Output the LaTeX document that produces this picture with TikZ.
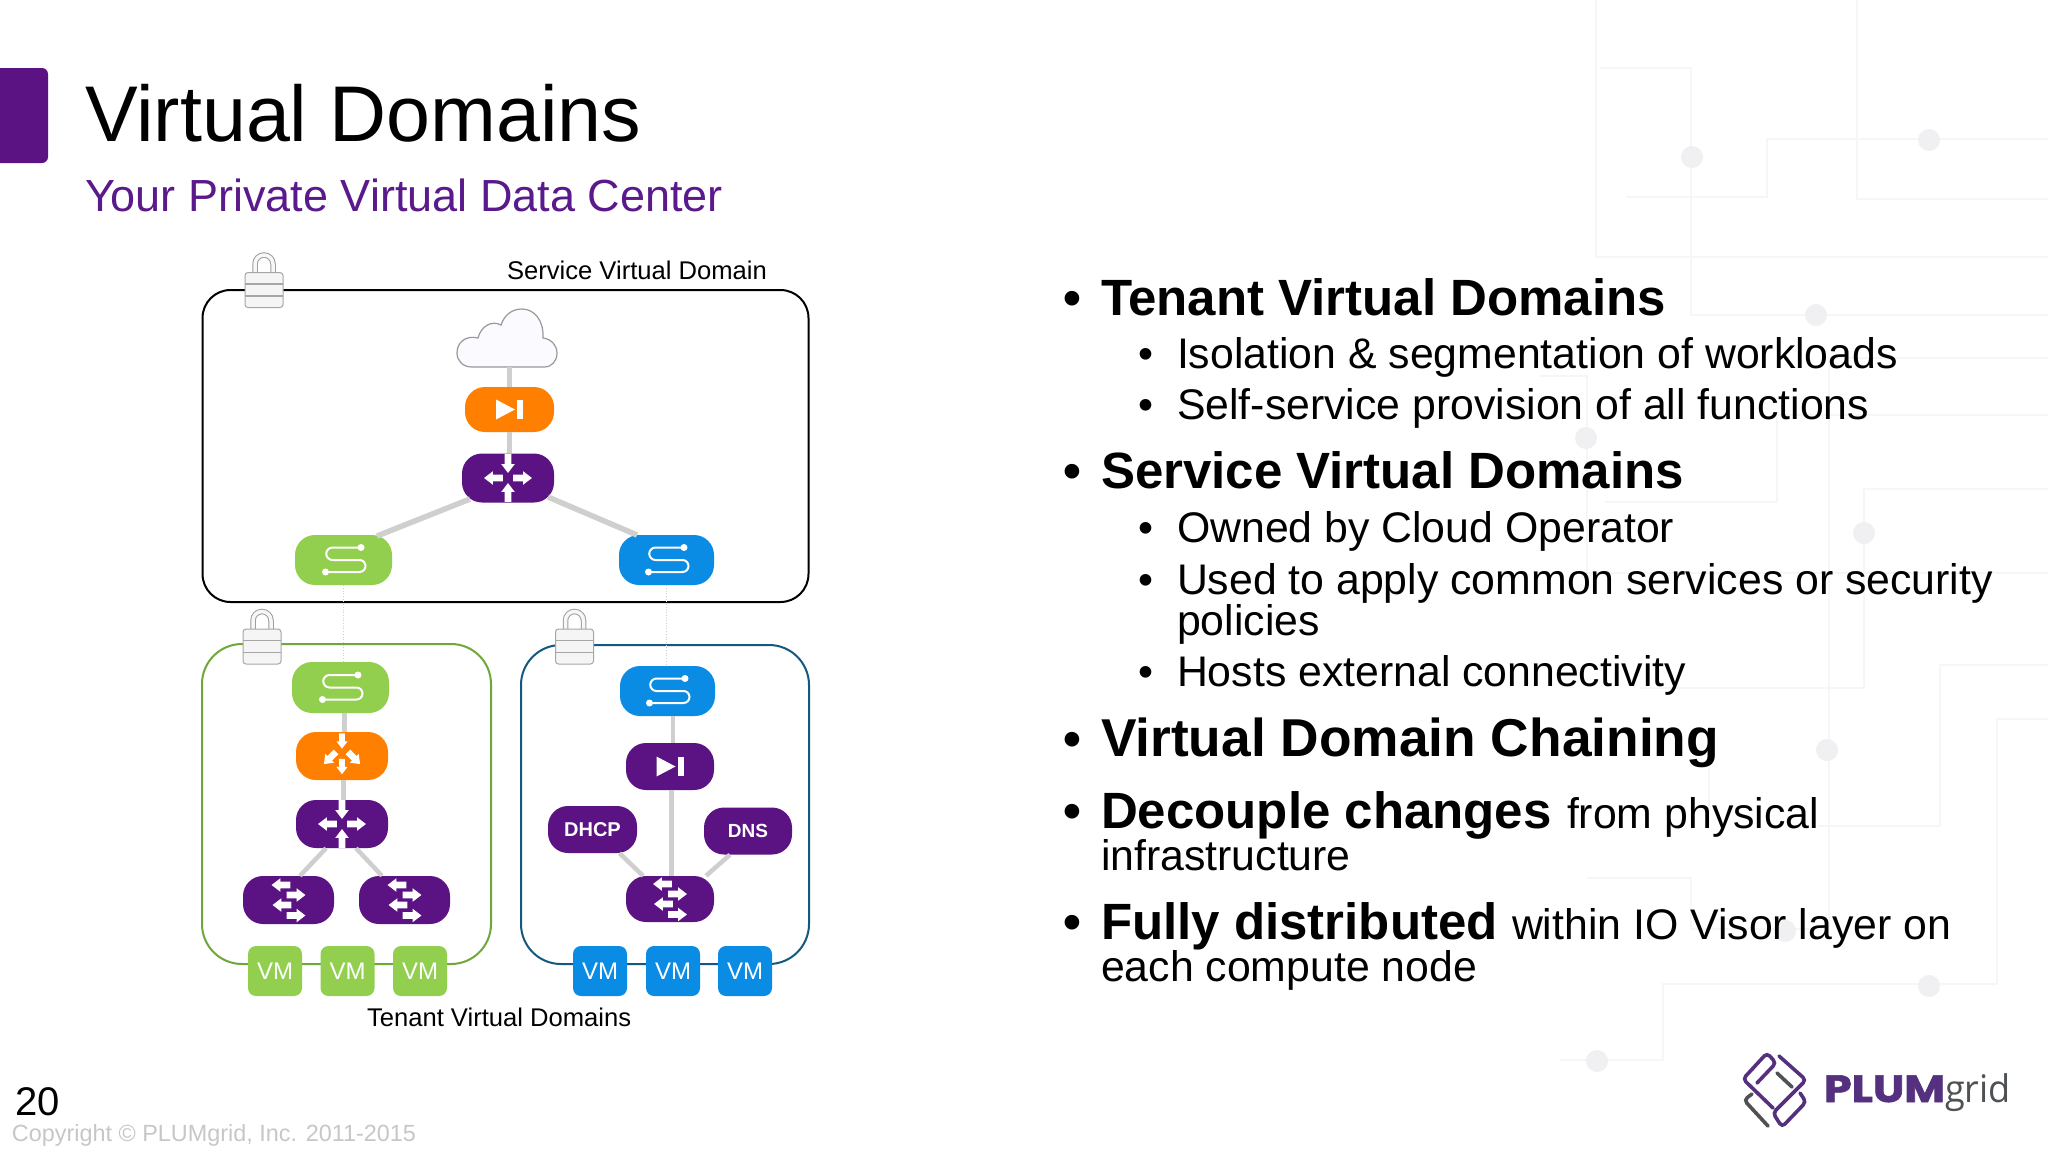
\documentclass[tikz,border=0pt]{standalone}
\usepackage{fontspec}
\setmainfont{Liberation Sans}
\newfontfamily\logofont{Poppins}[BoldFeatures={FakeBold=1.5}]
\newfontfamily\gridfont{Open Sans}
\usetikzlibrary{calc}
\definecolor{plum}{HTML}{5B1282}
\definecolor{subplum}{HTML}{5A1A8B}
\definecolor{fgreen}{HTML}{92CF4F}
\definecolor{fblue}{HTML}{0A8BE4}
\definecolor{forange}{HTML}{FF7F00}
\definecolor{edgegray}{HTML}{CFCFCF}
\definecolor{circ}{HTML}{F6F5F7}
\definecolor{cdotc}{HTML}{F0EFF1}
\definecolor{tgreen}{HTML}{6FA73A}
\definecolor{tblue}{HTML}{15587F}
\definecolor{logop}{HTML}{54307F}
\definecolor{logog}{HTML}{4F5254}
\newcommand{\fs}[1]{\fontsize{#1}{#1}\selectfont}
\newcommand{\myarrow}[5]{\fill[white,shift={(#1,#2)},rotate=#3,scale=#4] (-9,-#5)--(0.5,-#5)--(0.5,-6.5)--(9,0)--(0.5,6.5)--(0.5,#5)--(-9,#5)--cycle;}
\tikzset{
  x=1pt,y=-1pt,
  txt/.style={anchor=base west,inner sep=0pt,outer sep=0pt,text=black},
  head/.style={txt,font=\fs{51}\bfseries},
  body/.style={txt,font=\fs{42.8}},
  lab/.style={txt,font=\fs{25.6}},
  pill/.style={rectangle,rounded corners=20pt,inner sep=0pt,fill=#1,draw=none},
  sz/.style n args={2}{minimum width=#1pt,minimum height=#2pt},
  vm/.style={rectangle,rounded corners=8pt,inner sep=0pt,fill=#1,draw=none,minimum width=54pt,minimum height=50pt,text=white,font=\fs{24}},
  dom/.style={rectangle,rounded corners=#1pt,inner sep=0pt,fill=none,line width=2pt},
  link/.style={draw=edgegray,line width=4.5pt},
  slink/.style={draw=edgegray,line width=5.5pt},
  faint/.style={draw=edgegray,line width=0.7pt,dotted},
  circuit/.style={draw=circ,line width=1.2pt},
  cdot/.style={circle,fill=cdotc,draw=none,minimum size=22pt,inner sep=0pt},
  lockbody/.style={rectangle,rounded corners=3pt,draw=black!35,line width=1pt,fill=white!96!black,minimum width=38pt,minimum height=35pt,inner sep=0pt},
  lockpic/.pic={
    \draw[black!38,line width=5.5pt] (-9,-17) -- (-9,-26) arc[start angle=180,end angle=360,radius=9] -- (9,-17);
    \draw[white!97!black,line width=3.5pt] (-9,-17) -- (-9,-26) arc[start angle=180,end angle=360,radius=9] -- (9,-17);
    \node[lockbody] at (0,0) {};
    \draw[black!35,line width=1.2pt] (-19,-6) -- (19,-6) (-19,6) -- (19,6);
  },
  sicon/.pic={
    \draw[white,line width=2pt] (17.5,-12.5) -- (-11,-12.5) arc[start angle=270,end angle=90,radius=6.25] -- (16,0) arc[start angle=-90,end angle=90,radius=6] -- (-18,12);
    \fill[white] (17.5,-12.5) circle[radius=3.5] (-18,12) circle[radius=3.5];
  },
  routericon/.pic={
    \myarrow{0}{-14.5}{-90}{1.05}{3.3}
    \myarrow{0}{14.5}{90}{1.05}{3.3}
    \myarrow{-14.5}{0}{180}{1.05}{3.3}
    \myarrow{14.5}{0}{0}{1.05}{3.3}
  },
  switchicon/.pic={
    \myarrow{-7.5}{-15}{180}{1.05}{3.3}
    \myarrow{7.5}{-5}{0}{1.05}{3.3}
    \myarrow{-6.5}{5}{180}{1.05}{3.3}
    \myarrow{7.5}{15.5}{0}{1.05}{3.3}
  },
  lbicon/.pic={
    \myarrow{0}{-15}{-90}{0.85}{3.4}
    \myarrow{0}{10.5}{-90}{0.85}{3.4}
    \myarrow{-12}{2}{225}{0.95}{3.4}
    \myarrow{12}{2}{-45}{0.95}{3.4}
  },
  playicon/.pic={
    \fill[white] (-13.5,-10) -- (5.5,0) -- (-13.5,10) -- cycle;
    \fill[white] (7.5,-9.5) rectangle (13.5,9.5);
  },
}
\begin{document}
\begin{tikzpicture}
\useasboundingbox (0,0) rectangle (2048,1152);
\fill[white] (0,0) rectangle (2048,1152);
% ---- decorative circuit background
\draw[circuit] (1596,0) -- (1596,257) -- (2048,257);
\draw[circuit] (1600,68) -- (1691,68) -- (1691,315) -- (2048,315);
\draw[circuit] (1626,197) -- (1767,197) -- (1767,139) -- (2048,139);
\draw[circuit] (1857,0) -- (1857,199) -- (2048,199);
\draw[circuit] (2048,358) -- (1829,358) -- (1829,929) -- (1691,929) -- (1691,878) -- (1587,878);
\draw[circuit] (2048,415) -- (1777,415) -- (1777,502) -- (1605,502);
\draw[circuit] (1540,376) -- (1587,376) -- (1587,573) -- (2048,573);
\draw[circuit] (2048,489) -- (1864,489) -- (1864,688) -- (1640,688);
\draw[circuit] (2048,665) -- (1940,665) -- (1940,826) -- (1818,826);
\draw[circuit] (2048,719) -- (1997,719) -- (1997,984) -- (1663,984) -- (1663,1060) -- (1560,1060);
\draw[circuit] (1709,765) -- (1709,811);
\foreach \cx/\cy/\cn in {1692/157/a,1929/140/b,1816/315/c,1586/438/d,1864/533/e,1827/750/f,1785/931/g,1929/986/h,1597/1061/i}
  \node[cdot] (dot\cn) at (\cx,\cy) {};
% ---- header
\fill[plum,rounded corners=6pt] (-12,68) rectangle (48,163);
\node[txt,font=\fs{79}] (title) at (85,141) {Virtual Domains};
\node[txt,font=\fs{45},text=subplum] (subtitle) at (85,211) {Your Private Virtual Data Center};
% ---- domains
\node[dom=28,draw=black,sz={606}{312}] (svc) at (505.5,446) {};
\node[dom=40,draw=tgreen,sz={289}{320}] (tl) at (346.5,804) {};
\node[dom=40,draw=tblue,sz={288}{319}] (tr) at (665,804.5) {};
\pic at (264,290) {lockpic};
\pic at (262,646.5) {lockpic};
\pic at (574.5,646.5) {lockpic};
\node[lab] (svclabel) at (507,279) {Service Virtual Domain};
\node[lab] (tenlabel) at (367,1026) {Tenant Virtual Domains};
% ---- cloud
\node[minimum width=100pt,minimum height=58pt,inner sep=0pt] (cloud) at (507,338) {};
\draw[black!40,line width=1.2pt,fill=white!98!blue] (472,367) -- (544,367) .. controls (552,367) and (557,361) .. (557,353) .. controls (557,345) and (551,339) .. (543,338) .. controls (544,320) and (534,309) .. (522,309) .. controls (511,309) and (504,316) .. (501,325) .. controls (492,320) and (481,326) .. (478,338) .. controls (466,335) and (457,342) .. (457,353) .. controls (457,361) and (463,367) .. (472,367) -- cycle;
% ---- service domain nodes
\node[pill=forange,sz={89}{45}] (sgw) at (509.5,409.5) {};
\node[pill=plum,sz={92}{49}] (srt) at (508,478) {};
\node[pill=fgreen,sz={97}{50}] (sg) at (343.5,560) {};
\node[pill=fblue,sz={95}{50}] (sb) at (666.5,560) {};
% ---- tenant green
\node[pill=fgreen,sz={97}{51}] (tgs) at (340.5,687.5) {};
\node[pill=forange,sz={92}{48}] (tglb) at (342,756) {};
\node[pill=plum,sz={92}{48}] (tgr) at (342,824) {};
\node[pill=plum,sz={91}{48}] (tga) at (288.5,900) {};
\node[pill=plum,sz={91}{48}] (tgb) at (404.5,900) {};
\node[vm=fgreen] (vg1) at (275,971) {VM};
\node[vm=fgreen] (vg2) at (347.5,971) {VM};
\node[vm=fgreen] (vg3) at (420,971) {VM};
% ---- tenant blue
\node[pill=fblue,sz={95}{50}] (tbs) at (667.5,691) {};
\node[pill=plum,sz={88}{47}] (tbp) at (670,766.5) {};
\node[pill=plum,sz={89}{47},text=white,font=\fs{20}\bfseries] (dhcp) at (592.5,829.5) {DHCP};
\node[pill=plum,sz={88}{47},text=white,font=\fs{19}\bfseries] (dns) at (748,831) {DNS};
\node[pill=plum,sz={88}{46}] (tbw) at (670,899) {};
\node[vm=fblue] (vb1) at (600,971) {VM};
\node[vm=fblue] (vb2) at (673,971) {VM};
\node[vm=fblue] (vb3) at (745,971) {VM};
% ---- connectors
\draw[slink] (sgw.north |- cloud.south) -- (sgw.north);
\draw[slink] (sgw.south) -- (sgw.south |- srt.north);
\draw[slink] ([xshift=-38pt,yshift=-21pt]srt.center) -- ([xshift=33.5pt,yshift=24pt]sg.center);
\draw[slink] ([xshift=40pt,yshift=-19pt]srt.center) -- ([xshift=-29.5pt,yshift=25pt]sb.center);
\draw[faint] (sg.south) -- (sg.south |- tgs.north);
\draw[faint] (sb.south) -- (sb.south |- tbs.north);
\draw[link] ([xshift=2.5pt]tglb.north |- tgs.south) -- ([xshift=2.5pt]tglb.north);
\draw[link] ([xshift=1.5pt]tglb.south) -- ([xshift=1.5pt]tgr.north);
\draw[link] ([xshift=-16pt]tgr.south) -- ([xshift=11.5pt]tga.north);
\draw[link] ([xshift=14pt]tgr.south) -- ([xshift=-22.5pt]tgb.north);
\draw[link] ([xshift=3pt]tbp.north |- tbs.south) -- ([xshift=3pt]tbp.north);
\draw[link] ([xshift=1.5pt]tbp.south) -- ([xshift=1.5pt]tbw.north);
\draw[link] ([xshift=27pt]dhcp.south) -- ([xshift=-27pt]tbw.north);
\draw[link] ([xshift=-18pt]dns.south) -- ([xshift=36pt]tbw.north);
% ---- icons
\pic at (sgw.center) {playicon};
\pic at (srt.center) {routericon};
\pic at (sg.center) {sicon};
\pic at (sb.center) {sicon};
\pic at (tgs.center) {sicon};
\pic at (tglb.center) {lbicon};
\pic at (tgr.center) {routericon};
\pic at (tga.center) {switchicon};
\pic at (tgb.center) {switchicon};
\pic at (tbs.center) {sicon};
\pic at (tbp.center) {playicon};
\pic at (tbw.center) {switchicon};
% ---- bullet list
\node[head] at (1063,315) {•};
\node[head] (l1) at (1101,315) {Tenant Virtual Domains};
\node[body] at (1138,368) {•};
\node[body] (l2) at (1177,368) {Isolation \& segmentation of workloads};
\node[body] at (1138,419) {•};
\node[body] (l3) at (1177,419) {Self-service provision of all functions};
\node[head] at (1063,488) {•};
\node[head] (l4) at (1101,488) {Service Virtual Domains};
\node[body] at (1138,542) {•};
\node[body] (l5) at (1177,542) {Owned by Cloud Operator};
\node[body] at (1138,594) {•};
\node[body] (l6) at (1177,594) {Used to apply common services or security};
\node[body] (l7) at (1177,635) {policies};
\node[body] at (1138,686) {•};
\node[body] (l8) at (1177,686) {Hosts external connectivity};
\node[head] at (1063,756) {•};
\node[head,font=\fs{53.3}\bfseries] (l9) at (1101,756) {Virtual Domain Chaining};
\node[head] at (1063,828) {•};
\node[head] (l10) at (1101,828) {Decouple changes};
\node[body] (l10b) at (1567,828) {from physical};
\node[body] (l11) at (1101,870) {infrastructure};
\node[head] at (1063,939) {•};
\node[head] (l12) at (1101,939) {Fully distributed};
\node[body] (l12b) at (1512,939) {within IO Visor layer on};
\node[body] (l13) at (1101,981) {each compute node};
% ---- footer
\node[txt,font=\fs{40}] (page) at (15,1115) {20};
\node[txt,font=\fs{23.4},text=black!22] (copy) at (12,1141) {Copyright © PLUMgrid, Inc. 2011-2015};
% ---- logo
\begin{scope}[line width=3.6pt,rounded corners=4pt,line cap=round]
\draw[logop] (1757,1083) -- (1776,1063) -- (1767,1053) -- (1743,1079) -- (1773,1108);
\draw[logog] (1777,1073) -- (1792,1087);
\draw[logop] (1779,1056) -- (1806,1080) -- (1773,1113) -- (1782,1127) -- (1806,1102) -- (1800,1093);
\draw[logog] (1752,1094) -- (1744,1100) -- (1768,1126);
\end{scope}
\node[txt,font=\logofont\fs{38}\bfseries,text=logop] (plum) at (1824,1102) {\scalebox{1.17}[1]{PLUM}};
\node[txt,font=\gridfont\fs{38},text=logog] (grid) at (1945,1102) {\scalebox{0.95}[1]{grid}};
\end{tikzpicture}
\end{document}
